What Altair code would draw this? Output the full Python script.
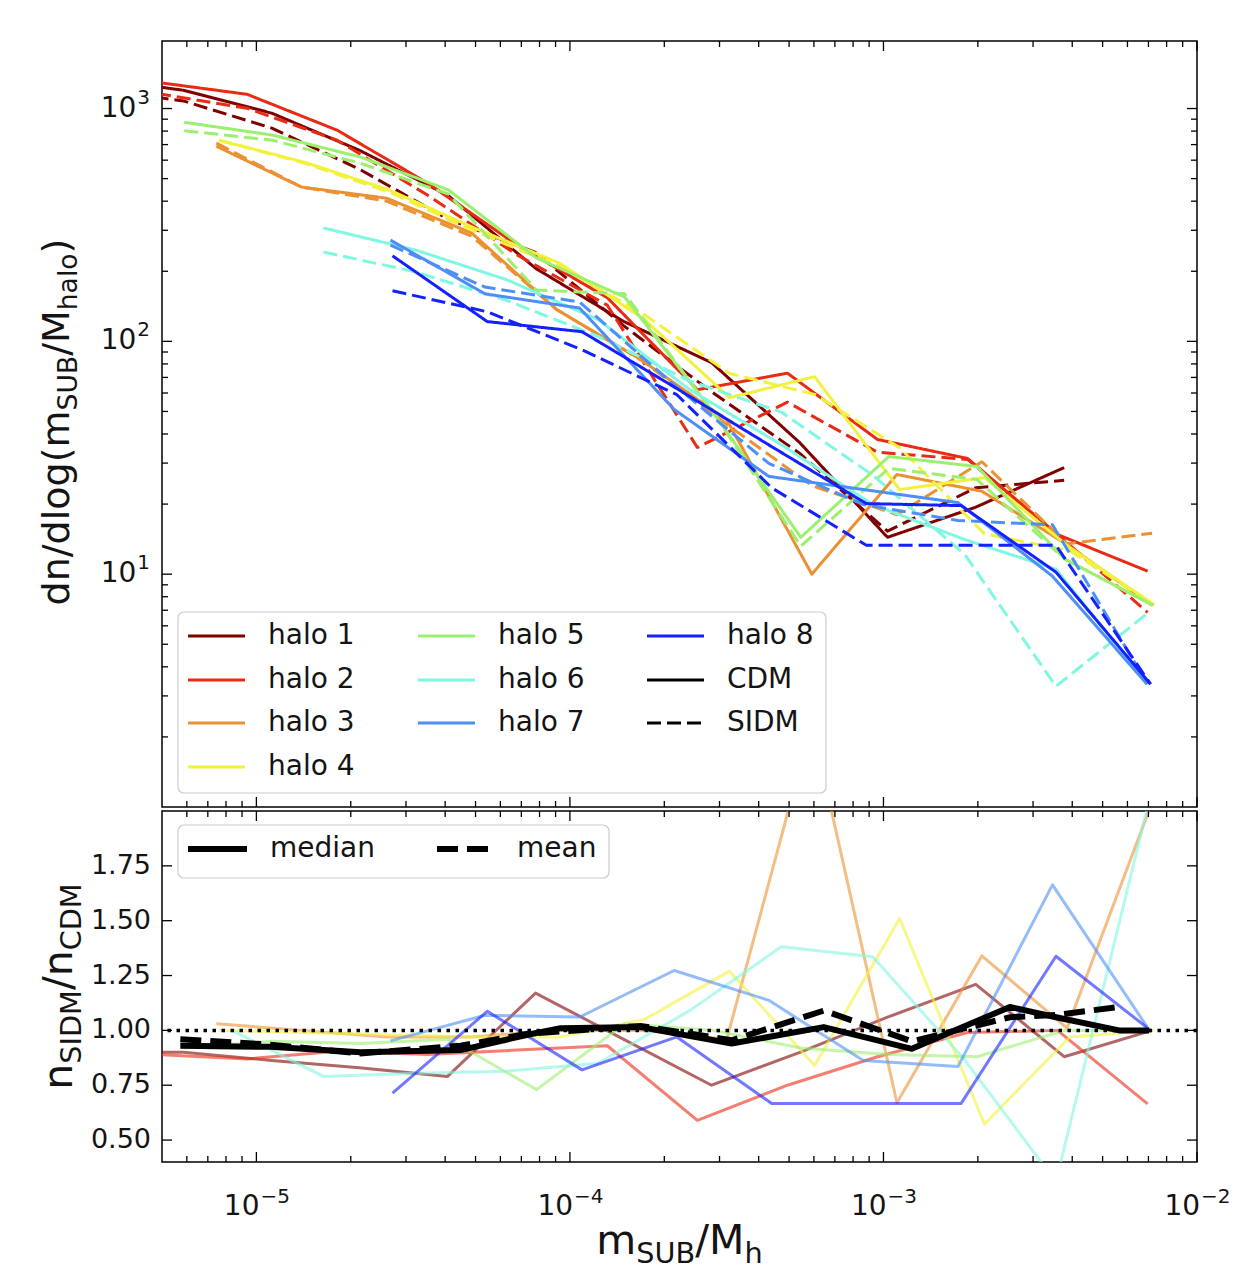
import altair as alt
import pandas as pd

FONT = "DejaVu Sans"
TXT = "#141414"

# ---------------- data ----------------
halo_names = ["halo 1", "halo 2", "halo 3", "halo 4", "halo 5", "halo 6", "halo 7", "halo 8"]
halo_colors = ["#800000", "#ea2a12", "#eb9132", "#f2f23c", "#9cf06f", "#80f7e0", "#4d8ff7", "#1520ff"]

h1_x = [3.06e-6, 5.85e-6, 1.12e-5, 2.13e-5, 4.07e-5, 7.77e-5, 1.48e-4, 2.83e-4, 5.41e-4, 1.03e-3, 1.97e-3, 3.77e-3, 7.19e-3]
h1_cdm = [1348, 1198, 955, 662, 425, 206, 122, 81, 36.7, 14.4, 19.4, 28.7, None]
h1_sidm = [1213, 1078, 824, 549, 336, 241, 117, 60.7, 33, 15.3, 23.5, 25.3, None]
h1_ratio = [0.9, 0.9, 0.863, 0.83, 0.79, 1.17, 0.96, 0.75, 0.9, 1.06, 1.21, 0.88, 1.0]

h2_x = [4.82e-6, 9.34e-6, 1.81e-5, 3.51e-5, 6.79e-5, 1.316e-4, 2.55e-4, 4.94e-4, 9.57e-4, 1.855e-3, 3.59e-3, 6.96e-3]
h2_cdm = [1296, 1151, 807, 479, 259, 154, 62, 73, 37.9, 31.4, 14.8, 10.3]
h2_sidm = [1160, 1003, 731, 425, 235, 143, 35, 54.8, 33.4, 31.1, 14.8, 6.85]
h2_ratio = [0.89, 0.87, 0.905, 0.89, 0.91, 0.93, 0.59, 0.75, 0.88, 0.99, 1.0, 0.665]

h3_x = [7.45e-6, 1.392e-5, 2.60e-5, 4.86e-5, 9.07e-5, 1.694e-4, 3.164e-4, 5.91e-4, 1.104e-3, 2.061e-3, 3.85e-3, 7.19e-3]
h3_cdm = [689, 460, 412, 292, 137, 83, 46, 10.0, 26.8, 22.7, 13.4, 7.35]
h3_sidm = [710, 460, 400, 283, 137, 83, 44, 24, 18, 30.4, 13.5, 15]
h3_ratio = [1.03, 1.0, 0.97, 0.97, 1.0, 1.0, 0.96, 2.4, 0.67, 1.34, 1.01, 2.04]

h4_x = [7.6e-6, 1.42e-5, 2.65e-5, 4.95e-5, 9.25e-5, 1.73e-4, 3.23e-4, 6.03e-4, 1.126e-3, 2.10e-3, 3.93e-3, 7.3e-3]
h4_cdm = [731, 589, 447, 307, 217, 124, 57.3, 70.5, 23.1, 26, 13, 7.4]
h4_sidm = [731, 583, 438, 298, 210, 130, 72.8, 59.2, 34.9, 14.9, 12.6, 7.4]
h4_ratio = [1.0, 0.99, 0.98, 0.97, 0.97, 1.05, 1.27, 0.84, 1.51, 0.573, 0.97, 1.0]

h5_x = [5.89e-6, 1.125e-5, 2.147e-5, 4.10e-5, 7.83e-5, 1.495e-4, 2.853e-4, 5.45e-4, 1.040e-3, 1.987e-3, 3.79e-3, 7.24e-3]
h5_cdm = [873, 769, 619, 447, 228, 155, 49.9, 14.4, 32, 29, 11.6, 7.35]
h5_sidm = [803, 731, 582, 429, 166, 160, 49.9, 13.2, 28.5, 25.5, 11.6, 7.35]
h5_ratio = [0.92, 0.95, 0.94, 0.96, 0.73, 1.03, 1.0, 0.92, 0.89, 0.88, 1.0, 1.0]

h6_x = [8.35e-6, 1.636e-5, 3.21e-5, 6.28e-5, 1.230e-4, 2.41e-4, 4.72e-4, 9.25e-4, 1.812e-3, 3.55e-3, 6.96e-3]
h6_cdm = [None, 307, 247, 184, 124, 62, 36, 19.9, 14.1, 10.5, 3.37]
h6_sidm = [None, 242, 199, 150, 105, 67.6, 49.7, 26.6, 12.2, 3.3, 6.8]
h6_ratio = [1.0, 0.79, 0.805, 0.814, 0.85, 1.09, 1.381, 1.336, 0.867, 0.31, 2.02]

h7_x = [2.677e-5, 5.36e-5, 1.074e-4, 2.15e-4, 4.31e-4, 8.62e-4, 1.728e-3, 3.46e-3, 6.93e-3]
h7_cdm = [272, 160, 139, 51, 26.3, 23.1, 20.3, 9.8, 3.37]
h7_sidm = [259, 171, 147.5, 65, 29.9, 19.9, 17, 16.3, 3.4]
h7_ratio = [0.952, 1.069, 1.061, 1.273, 1.137, 0.863, 0.835, 1.663, 1.016]

h8_x = [2.717e-5, 5.45e-5, 1.093e-4, 2.193e-4, 4.40e-4, 8.82e-4, 1.769e-3, 3.55e-3, 7.11e-3]
h8_cdm = [233, 121.6, 110, 62.7, 35.3, 20.1, 19.7, 10.2, 3.37]
h8_sidm = [164.9, 134, 92, 59, 23.5, 13.3, 13.3, 13.3, 3.37]
h8_ratio = [0.714, 1.087, 0.82, 0.97, 0.667, 0.667, 0.667, 1.338, 1.0]

median_x = [5.72e-6, 1.108e-5, 2.148e-5, 4.48e-5, 7.33e-5, 9.34e-5, 1.681e-4, 3.28e-4, 6.45e-4, 1.232e-3, 2.53e-3, 3.55e-3, 5.64e-3, 7.03e-3]
median_v = [0.93, 0.925, 0.90, 0.91, 0.98, 1.01, 1.015, 0.94, 1.015, 0.916, 1.107, 1.06, 1.0, 1.0]
mean_x = [5.72e-6, 1.108e-5, 2.148e-5, 4.48e-5, 7.33e-5, 1.681e-4, 3.28e-4, 6.45e-4, 1.232e-3, 2.53e-3, 3.55e-3, 5.64e-3]
mean_v = [0.96, 0.935, 0.895, 0.93, 0.985, 1.02, 0.955, 1.09, 0.95, 1.06, 1.07, 1.107]

x_major = [1e-5, 1e-4, 1e-3, 1e-2]
x_tick_base = ["10", "10", "10", "10"]
x_tick_exp = ["−5", "−4", "−3", "−2"]
y_top_major = [10, 100, 1000]
y_top_base = ["10", "10", "10"]
y_top_exp = ["1", "2", "3"]
y_bot_major = [0.5, 0.75, 1.0, 1.25, 1.5, 1.75]
y_bot_labels = ["0.50", "0.75", "1.00", "1.25", "1.50", "1.75"]

legend_top_labels = ["halo 1", "halo 2", "halo 3", "halo 4", "halo 5", "halo 6", "halo 7", "halo 8", "CDM", "SIDM"]
legend_bot_labels = ["median", "mean"]

# ---------------- assemble tables ----------------
halos = [
    (h1_x, h1_cdm, h1_sidm, h1_ratio), (h2_x, h2_cdm, h2_sidm, h2_ratio),
    (h3_x, h3_cdm, h3_sidm, h3_ratio), (h4_x, h4_cdm, h4_sidm, h4_ratio),
    (h5_x, h5_cdm, h5_sidm, h5_ratio), (h6_x, h6_cdm, h6_sidm, h6_ratio),
    (h7_x, h7_cdm, h7_sidm, h7_ratio), (h8_x, h8_cdm, h8_sidm, h8_ratio),
]
top_rows, bot_rows = [], []
for i, (xs_, cdm, sidm, ratio) in enumerate(halos):
    name = halo_names[i]
    for model, vals in (("CDM", cdm), ("SIDM", sidm)):
        for xv, yv in zip(xs_, vals):
            if yv is not None:
                top_rows.append({"x": xv, "y": yv, "halo": name, "model": model, "sid": f"{i}{model}"})
    for xv, rv in zip(xs_, ratio):
        if rv is not None:
            bot_rows.append({"x": xv, "r": rv, "halo": name, "sid": f"{i}"})
top_df = pd.DataFrame(top_rows)
bot_df = pd.DataFrame(bot_rows)
med_df = pd.DataFrame({"x": median_x, "r": median_v})
mean_df = pd.DataFrame({"x": mean_x, "r": mean_v})

W, HT, HB = 1035, 766, 351
xs = alt.Scale(type="log", domain=[5e-6, 1e-2], nice=False)
ys_top = alt.Scale(type="log", domain=[1.0, 1950], nice=False)
ys_bot = alt.Scale(domain=[0.4, 2.0], nice=False, zero=False)
color_scale = alt.Scale(domain=halo_names, range=halo_colors)

one = pd.DataFrame({"a": [0]})
LBL = 28      # tick label size
SUP = 20      # exponent size

CW = {'d': 0.635, 'n': 0.634, '/': 0.337, 'l': 0.278, 'o': 0.612, 'g': 0.635, '(': 0.390, ')': 0.390,
      'm': 0.974, 'S': 0.635, 'U': 0.732, 'B': 0.686, 'M': 0.863, 'h': 0.634, 'a': 0.613, 'I': 0.295,
      'D': 0.770, 'C': 0.698, '−': 0.838, '0': 0.636, '1': 0.636, '2': 0.636, '3': 0.636, '4': 0.636,
      '5': 0.636}


def tw(s, size):
    return sum(CW.get(c, 0.6) for c in s) * size


# ---------------- ticks (inward, all sides) and tick labels ----------------
x_minor = [k * 10.0 ** e for e in (-6, -5, -4, -3) for k in range(2, 10) if 5e-6 < k * 10.0 ** e < 1e-2]
y_top_minor = [k * 10.0 ** e for e in (0, 1, 2) for k in range(2, 10)]


def x_ticks(vals, length, H):
    df = pd.DataFrame({"v": vals})
    base = alt.Chart(df).mark_rule(color="black", strokeWidth=1.3)
    return [
        base.encode(x=alt.X("v:Q", scale=xs, axis=None), y=alt.value(0), y2=alt.value(length)),
        base.encode(x=alt.X("v:Q", scale=xs, axis=None), y=alt.value(H), y2=alt.value(H - length)),
    ]


def y_ticks(vals, length, scale):
    df = pd.DataFrame({"v": vals})
    base = alt.Chart(df).mark_rule(color="black", strokeWidth=1.3)
    return [
        base.encode(y=alt.Y("v:Q", scale=scale, axis=None), x=alt.value(0), x2=alt.value(length)),
        base.encode(y=alt.Y("v:Q", scale=scale, axis=None), x=alt.value(W), x2=alt.value(W - length)),
    ]


# x tick labels: "10" plus raised exponent, centred as a whole on the tick
w_base = tw("10", LBL)
w_exp = tw("−5", SUP)
x_lab_df = pd.DataFrame({"v": x_major, "b": x_tick_base, "e": x_tick_exp})
x_lab_base = alt.Chart(x_lab_df).mark_text(align="left", baseline="alphabetic", fontSize=LBL, font=FONT,
                                           color=TXT, dx=-(w_base + w_exp) / 2).encode(
    x=alt.X("v:Q", scale=xs, axis=None), y=alt.value(HB + 53), text="b:N")
x_lab_exp = alt.Chart(x_lab_df).mark_text(align="left", baseline="alphabetic", fontSize=SUP, font=FONT,
                                          color=TXT, dx=-(w_base + w_exp) / 2 + w_base + 1).encode(
    x=alt.X("v:Q", scale=xs, axis=None), y=alt.value(HB + 53 - 12), text="e:N")

# y tick labels of the log panel: "10" plus raised exponent, right aligned
y_lab_df = pd.DataFrame({"v": y_top_major, "b": y_top_base, "e": y_top_exp})
y_exp_w = tw("3", SUP)
y_lab_base = alt.Chart(y_lab_df).mark_text(align="right", baseline="middle", fontSize=LBL, font=FONT,
                                           color=TXT).encode(
    y=alt.Y("v:Q", scale=ys_top, axis=None), x=alt.value(-12 - y_exp_w - 1), text="b:N")
y_lab_exp = alt.Chart(y_lab_df).mark_text(align="left", baseline="middle", fontSize=SUP, font=FONT,
                                          color=TXT, dy=-11).encode(
    y=alt.Y("v:Q", scale=ys_top, axis=None), x=alt.value(-12 - y_exp_w), text="e:N")

y_bot_lab = alt.Chart(pd.DataFrame({"v": y_bot_major, "t": y_bot_labels})).mark_text(
    align="right", baseline="middle", fontSize=27, font=FONT, color=TXT).encode(
    y=alt.Y("v:Q", scale=ys_bot, axis=None), x=alt.value(-11), text="t:N")


# ---------------- composite titles with subscripts ----------------
def rotated_title(pieces, base_x, center_y):
    total = sum(tw(t, s) for t, s, _ in pieces)
    y = center_y + total / 2
    out = []
    for t, s, sh in pieces:
        out.append(alt.Chart(one).mark_text(text=t, angle=270, align="left", baseline="alphabetic",
                                            fontSize=s, font=FONT, color=TXT)
                   .encode(x=alt.value(base_x + sh), y=alt.value(y)))
        y -= tw(t, s)
    return out


def horizontal_title(pieces, center_x, base_y):
    total = sum(tw(t, s) for t, s, _ in pieces)
    x = center_x - total / 2
    out = []
    for t, s, sh in pieces:
        out.append(alt.Chart(one).mark_text(text=t, align="left", baseline="alphabetic",
                                            fontSize=s, font=FONT, color=TXT)
                   .encode(x=alt.value(x), y=alt.value(base_y + sh)))
        x += tw(t, s)
    return out


FT, FS = 38, 26.6
top_title = rotated_title([("dn/dlog(m", FT, 0), ("SUB", FS, 8), ("/M", FT, 0), ("halo", FS, 8), (")", FT, 0)],
                          -93, HT / 2 - 2)
FB, FBS = 41, 28.7
bot_title = rotated_title([("n", FB, 0), ("SIDM", FBS, 9), ("/n", FB, 0), ("CDM", FBS, 9)], -90, HB / 2)
x_title = horizontal_title([("m", FB, 0), ("SUB", FBS, 9), ("/M", FB, 0), ("h", FBS, 9)], W / 2, 443)

# ---------------- legends (drawn as marks) ----------------
leg_cols_line = [26, 256, 485]
leg_rows = [595, 639, 682, 726]
slots = [(0, 0), (0, 1), (0, 2), (0, 3), (1, 0), (1, 1), (1, 2), (2, 0), (2, 1), (2, 2)]
leg_colors = halo_colors + ["black", "black"]


def box(x0, x1, y0, y1):
    return alt.Chart(one).mark_rect(fill="white", stroke="#cccccc", strokeWidth=1.2, cornerRadius=6).encode(
        x=alt.value(x0), x2=alt.value(x1), y=alt.value(y0), y2=alt.value(y1))


def leg_entry(label, col, x0, x1, tx, y, width, dash=None):
    props = dict(color=col, strokeWidth=width)
    if dash:
        props["strokeDash"] = dash
    rule = alt.Chart(one).mark_rule(**props).encode(x=alt.value(x0), x2=alt.value(x1), y=alt.value(y))
    text = alt.Chart(one).mark_text(text=label, align="left", baseline="middle", fontSize=28, font=FONT,
                                    color=TXT).encode(x=alt.value(tx), y=alt.value(y))
    return [rule, text]


top_legend = [box(16, 664, 571, 752)]
for lab, (c, r), col in zip(legend_top_labels, slots, leg_colors):
    x0 = leg_cols_line[c]
    top_legend += leg_entry(lab, col, x0, x0 + 57, x0 + 80, leg_rows[r], 3,
                            [14, 6] if lab == "SIDM" else None)

bot_legend = [box(16, 447, 14, 67)]
bot_legend += leg_entry(legend_bot_labels[0], "black", 26, 85, 108, 38, 6)
bot_legend += leg_entry(legend_bot_labels[1], "black", 275, 333, 355, 38, 6, [21, 9])

# ---------------- top panel ----------------
top_lines = alt.Chart(top_df).mark_line(strokeWidth=3, clip=True, strokeJoin="round").encode(
    x=alt.X("x:Q", scale=xs, axis=None),
    y=alt.Y("y:Q", scale=ys_top, axis=None),
    color=alt.Color("halo:N", scale=color_scale, legend=None),
    strokeDash=alt.StrokeDash("model:N", scale=alt.Scale(domain=["CDM", "SIDM"], range=[[1, 0], [14, 6]]),
                              legend=None),
    detail="sid:N",
)

top_layers = [top_lines]
top_layers += x_ticks(x_major, 10, HT) + x_ticks(x_minor, 6, HT)
top_layers += y_ticks(y_top_major, 10, ys_top) + y_ticks(y_top_minor, 6, ys_top)
top_layers += [y_lab_base, y_lab_exp]
top_layers += top_legend
top_layers += top_title
top = alt.layer(*top_layers).properties(width=W, height=HT)

# ---------------- bottom panel ----------------
ratio_lines = alt.Chart(bot_df).mark_line(strokeWidth=3, opacity=0.6, clip=True, strokeJoin="round").encode(
    x=alt.X("x:Q", scale=xs, axis=None),
    y=alt.Y("r:Q", scale=ys_bot, axis=None),
    color=alt.Color("halo:N", scale=color_scale, legend=None),
    detail="sid:N",
)
unity = alt.Chart(pd.DataFrame({"v": [1.0]})).mark_rule(color="black", strokeWidth=3.5,
                                                       strokeDash=[3.5, 5.5]).encode(
    y=alt.Y("v:Q", scale=ys_bot, axis=None))
med_line = alt.Chart(med_df).mark_line(color="black", strokeWidth=6, clip=True, strokeJoin="round").encode(
    x=alt.X("x:Q", scale=xs, axis=None), y=alt.Y("r:Q", scale=ys_bot, axis=None))
mean_line = alt.Chart(mean_df).mark_line(color="black", strokeWidth=6, strokeDash=[21, 9], clip=True).encode(
    x=alt.X("x:Q", scale=xs, axis=None), y=alt.Y("r:Q", scale=ys_bot, axis=None))

bot_layers = [ratio_lines, unity, med_line, mean_line]
bot_layers += x_ticks(x_major, 10, HB) + x_ticks(x_minor, 6, HB)
bot_layers += y_ticks(y_bot_major, 10, ys_bot)
bot_layers += [y_bot_lab, x_lab_base, x_lab_exp]
bot_layers += bot_legend
bot_layers += bot_title + x_title
bottom = alt.layer(*bot_layers).properties(width=W, height=HB)

chart = (
    alt.vconcat(top, bottom, spacing=0)
    .resolve_scale(x="independent", y="independent")
    .properties(padding={"left": 30, "top": 31, "right": 10, "bottom": 10})
    .configure(background="white", font=FONT)
    .configure_view(stroke="black", strokeWidth=1.5)
)

chart.save("out.html", embed_options={"renderer": "svg", "actions": False})
